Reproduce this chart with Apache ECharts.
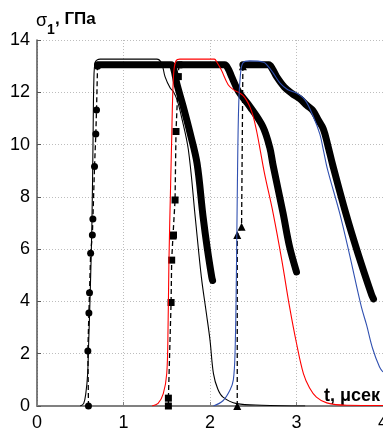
<!DOCTYPE html>
<html>
<head>
<meta charset="utf-8">
<script src="https://cdn.jsdelivr.net/npm/echarts@6/dist/echarts.min.js"></script>
<style>
  html, body { margin: 0; padding: 0; background: #fff; }
  #chart { width: 383px; height: 430px; }
</style>
</head>
<body>
<div id="chart"></div>
<script>
// axis ticks
const xTicks = [0, 1, 2, 3, 4];
const yTicks = [0, 2, 4, 6, 8, 10, 12, 14];

// calculated curves (t, sigma)
const simBlack = [[0.50, 0], [0.54, 0.1], [0.565, 0.5], [0.585, 1.2], [0.598, 2.5], [0.615, 4.3], [0.635, 7.0],
  [0.648, 10.2], [0.657, 12.4], [0.673, 13.15], [0.73, 13.27], [1.385, 13.27], [1.44, 13.12], [1.48, 12.6],
  [1.54, 12.16], [1.576, 12.03], [1.62, 11.7], [1.67, 11.07], [1.75, 9.8], [1.83, 7.2], [1.90, 4.94],
  [1.96, 3.5], [2.0, 2.52], [2.04, 1.24], [2.09, 0.65], [2.15, 0.34], [2.31, 0.09], [2.6, 0.03], [3.1, 0.0]];
const simRed = [[1.33, 0], [1.40, 0.1], [1.46, 0.47], [1.50, 1.24], [1.515, 3.0], [1.525, 5.5], [1.545, 8.5],
  [1.557, 10.2], [1.57, 12.0], [1.585, 12.9], [1.61, 13.22], [1.65, 13.27], [2.05, 13.27], [2.08, 13.15],
  [2.13, 12.86], [2.21, 12.29], [2.27, 12.1], [2.33, 12.0], [2.38, 11.88], [2.42, 11.71], [2.46, 11.45],
  [2.50, 11.07], [2.54, 10.5], [2.58, 9.8], [2.63, 8.9], [2.73, 7.37], [2.83, 5.58], [2.92, 3.79], [3.0, 2.4],
  [3.08, 1.24], [3.15, 0.7], [3.23, 0.34], [3.35, 0.12], [3.58, 0.03], [4.0, 0.02]];
const simBlue = [[2.04, 0], [2.15, 0.2], [2.23, 0.6], [2.27, 1.0], [2.29, 2.1], [2.305, 5], [2.315, 8],
  [2.33, 11.3], [2.35, 12.6], [2.38, 13.12], [2.46, 13.2], [2.62, 13.15], [2.67, 13.0], [2.73, 12.74],
  [2.81, 12.35], [2.90, 12.1], [3.0, 11.97], [3.10, 11.7], [3.19, 11.1], [3.27, 10.4], [3.31, 9.8],
  [3.36, 9.03], [3.50, 7.37], [3.61, 5.84], [3.75, 3.79], [3.81, 3.1], [3.88, 2.2], [3.96, 1.49], [4.0, 1.3]];

// measured points: front (sparse markers) and plateau/decay (dense markers)
const expFront1 = [[0.595, 0], [0.588, 2.1], [0.60, 3.56], [0.607, 4.33], [0.62, 5.84], [0.64, 6.54],
  [0.646, 7.15], [0.665, 9.16], [0.68, 10.4], [0.688, 11.32], [0.70, 13.0]];
const expBand1 = [[0.70, 13.05], [1.55, 13.05], [1.58, 12.9], [1.615, 12.35], [1.69, 11.46], [1.77, 10.44],
  [1.85, 9.29], [1.92, 7.24], [1.97, 6.0], [2.02, 4.94], [2.03, 4.8]];
const expFront2 = [[1.519, 0], [1.519, 0.3], [1.55, 3.96], [1.557, 5.58], [1.572, 6.5], [1.578, 6.54],
  [1.596, 7.88], [1.607, 10.5], [1.634, 12.6], [1.64, 13.05]];
const expBand2 = [[1.64, 13.05], [2.17, 13.05], [2.21, 12.9], [2.25, 12.6], [2.33, 12.03], [2.46, 11.46],
  [2.61, 10.69], [2.69, 9.9], [2.73, 9.2], [2.845, 7.37], [2.92, 6.09], [3.0, 5.13]];
const expFront3 = [[2.315, 0], [2.315, 6.54], [2.365, 6.86], [2.38, 13.0]];
const expBand3 = [[2.38, 13.05], [2.68, 13.05], [2.72, 12.9], [2.77, 12.6], [2.86, 12.2], [2.95, 11.95],
  [3.04, 11.75], [3.12, 11.5], [3.19, 11.3], [3.25, 10.95], [3.31, 10.6], [3.36, 10.0], [3.42, 9.2],
  [3.57, 7.37], [3.71, 5.84], [3.87, 4.24], [3.89, 4.1]];

const font = 'Liberation Sans';
const chart = echarts.init(document.getElementById('chart'));

const front = (data, symbol, size) => ({
  type: 'line', data: data, symbol: symbol, symbolSize: size, showSymbol: true,
  lineStyle: { color: '#000', width: 1.3, type: [5, 3] },
  itemStyle: { color: '#000' },
  z: 3,
});
const band = (data) => ({
  type: 'line', data: data, showSymbol: false, symbol: 'none', smooth: 0.35,
  lineStyle: { color: '#000', width: 7, cap: 'round', join: 'round' },
  z: 2,
});
const sim = (data, color) => ({
  type: 'line', data: data, showSymbol: false, symbol: 'none', smooth: 0.35,
  lineStyle: { color: color, width: 1.1 },
  z: 4,
});

chart.setOption({
  animation: false,
  grid: { left: 37, right: 0, top: 40, bottom: 24, outerBoundsMode: 'none', containLabel: false },
  xAxis: {
    type: 'value', min: xTicks[0], max: xTicks[xTicks.length - 1], interval: 1,
    axisLine: { lineStyle: { color: '#808080', width: 2 } },
    axisTick: { show: true, inside: true, length: 4, lineStyle: { color: '#808080' } },
    axisLabel: { color: '#000', fontSize: 18, fontFamily: font, margin: 8, showMaxLabel: true, hideOverlap: false },
    splitLine: { show: true, lineStyle: { color: '#bdbdbd', type: [1, 2], width: 1 } },
  },
  yAxis: {
    type: 'value', min: yTicks[0], max: yTicks[yTicks.length - 1], interval: 2,
    axisLine: { show: true, lineStyle: { color: '#555', width: 1.5 } },
    axisTick: { show: true, inside: true, length: 4, lineStyle: { color: '#555' } },
    axisLabel: { color: '#000', fontSize: 18, fontFamily: font, margin: 7 },
    splitLine: { show: true, lineStyle: { color: '#bdbdbd', type: [1, 2], width: 1 } },
  },
  graphic: [
    { type: 'text', left: 36, top: 12, style: { text: 'σ', font: '18px "Liberation Sans"', fill: '#000' } },
    { type: 'text', left: 47, top: 23, style: { text: '1', font: 'bold 14px "Liberation Sans"', fill: '#000' } },
    { type: 'text', left: 55, top: 11, style: { text: ', ГПа', font: 'bold 17px "Liberation Sans"', fill: '#000' } },
    { type: 'text', right: 3, top: 387, style: { text: 't, μсек', font: 'bold 18px "Liberation Sans"', fill: '#000' } },
  ],
  series: [
    band(expBand1), band(expBand2), band(expBand3),
    front(expFront1, 'circle', 7), front(expFront2, 'rect', 7), front(expFront3, 'triangle', 8),
    sim(simBlack, '#000'), sim(simRed, '#ff0000'), sim(simBlue, '#3050b0'),
  ],
});
</script>
</body>
</html>
